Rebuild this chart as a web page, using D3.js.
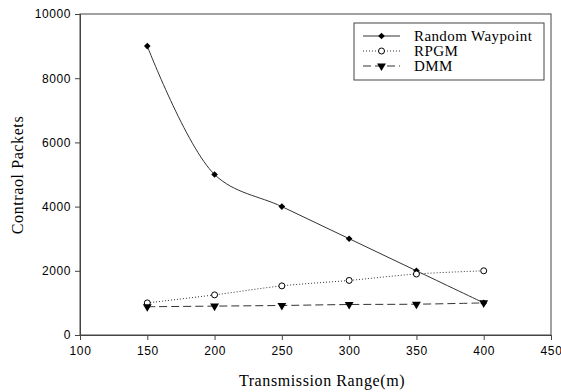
<!DOCTYPE html>
<html>
<head>
<meta charset="utf-8">
<script src="https://cdn.jsdelivr.net/npm/d3@7"></script>
<style>
  body { margin: 0; background: #fff; }
  svg { display: block; }
</style>
</head>
<body>
<script>
// Datos
const rangos = [150, 200, 250, 300, 350, 400];
const randomWaypoint = [9000, 5000, 4000, 3000, 2000, 1000];
const rpgm = [1000, 1250, 1530, 1700, 1900, 2000];
const dmm = [880, 900, 920, 950, 960, 1000];
const ticksX = [100, 150, 200, 250, 300, 350, 400, 450];
const ticksY = [0, 2000, 4000, 6000, 8000, 10000];

const series = [
  { nombre: "Random Waypoint", valores: randomWaypoint, dash: null, marca: "diamante" },
  { nombre: "RPGM", valores: rpgm, dash: "1,2", marca: "circulo" },
  { nombre: "DMM", valores: dmm, dash: "8,4", marca: "triangulo" }
];

const svg = d3.select("body").append("svg").attr("width", 561).attr("height", 392);

const x = d3.scaleLinear().domain([100, 450]).range([80, 551]);
const y = d3.scaleLinear().domain([0, 10000]).range([335, 14]);

// Marco del gráfico
svg.append("rect")
  .attr("x", 80).attr("y", 14).attr("width", 471).attr("height", 321)
  .attr("fill", "none").attr("stroke", "#444").attr("stroke-width", 1);

// Ejes
const ejeX = svg.append("g").attr("transform", "translate(0,335)")
  .call(d3.axisBottom(x).tickValues(ticksX).tickSize(5).tickPadding(6).tickFormat(d3.format("d")));
const ejeY = svg.append("g").attr("transform", "translate(80,0)")
  .call(d3.axisLeft(y).tickValues(ticksY).tickSize(5).tickPadding(4).tickFormat(d3.format("d")));

[ejeX, ejeY].forEach((g) => {
  g.select(".domain").attr("stroke", "#444");
  g.selectAll(".tick line").attr("stroke", "#444");
  g.selectAll("text").attr("font-family", "Liberation Sans, Arial, sans-serif")
    .attr("font-size", 12).attr("letter-spacing", 0.6).attr("fill", "#000");
});

// Títulos
svg.append("text")
  .attr("x", 322).attr("y", 386)
  .attr("text-anchor", "middle")
  .attr("font-family", "Liberation Serif, Times New Roman, serif")
  .attr("font-size", 16).attr("letter-spacing", 0.6)
  .text("Transmission Range(m)");

svg.append("text")
  .attr("transform", "translate(23,175) rotate(-90)")
  .attr("text-anchor", "middle")
  .attr("font-family", "Liberation Serif, Times New Roman, serif")
  .attr("font-size", 16).attr("letter-spacing", 0.6)
  .text("Contraol Packets");

// Función para dibujar marcas
function dibujarMarca(g, tipo, cx, cy) {
  if (tipo === "diamante") {
    g.append("path")
      .attr("d", d3.symbol().type(d3.symbolSquare).size(22)())
      .attr("transform", `translate(${cx},${cy}) rotate(45)`)
      .attr("fill", "#000");
  } else if (tipo === "circulo") {
    g.append("circle").attr("cx", cx).attr("cy", cy).attr("r", 3)
      .attr("fill", "#fff").attr("stroke", "#000").attr("stroke-width", 1);
  } else {
    g.append("path")
      .attr("d", d3.symbol().type(d3.symbolTriangle).size(34)())
      .attr("transform", `translate(${cx},${cy}) rotate(180)`)
      .attr("fill", "#000");
  }
}

const linea = d3.line()
  .x((d) => x(d[0]))
  .y((d) => y(d[1]))
  .curve(d3.curveCatmullRom.alpha(0.5));

series.forEach((s) => {
  const puntos = rangos.map((r, i) => [r, s.valores[i]]);
  svg.append("path")
    .datum(puntos)
    .attr("d", linea)
    .attr("fill", "none")
    .attr("stroke", "#333")
    .attr("stroke-width", 1)
    .attr("stroke-dasharray", s.dash);
  const g = svg.append("g");
  puntos.forEach((p) => dibujarMarca(g, s.marca, x(p[0]), y(p[1])));
});

// Leyenda
const leyenda = svg.append("g");
leyenda.append("rect")
  .attr("x", 354).attr("y", 23).attr("width", 190).attr("height", 57)
  .attr("fill", "#fff").attr("stroke", "#444").attr("stroke-width", 1);

series.forEach((s, i) => {
  const yy = 36 + i * 15;
  leyenda.append("line")
    .attr("x1", 363).attr("x2", 400).attr("y1", yy).attr("y2", yy)
    .attr("stroke", "#333").attr("stroke-dasharray", s.dash);
  dibujarMarca(leyenda, s.marca, 381.5, yy);
  leyenda.append("text")
    .attr("x", 414).attr("y", yy + 5)
    .attr("font-family", "Liberation Serif, Times New Roman, serif")
    .attr("font-size", 15).attr("letter-spacing", 0.4)
    .text(s.nombre);
});
</script>
</body>
</html>
